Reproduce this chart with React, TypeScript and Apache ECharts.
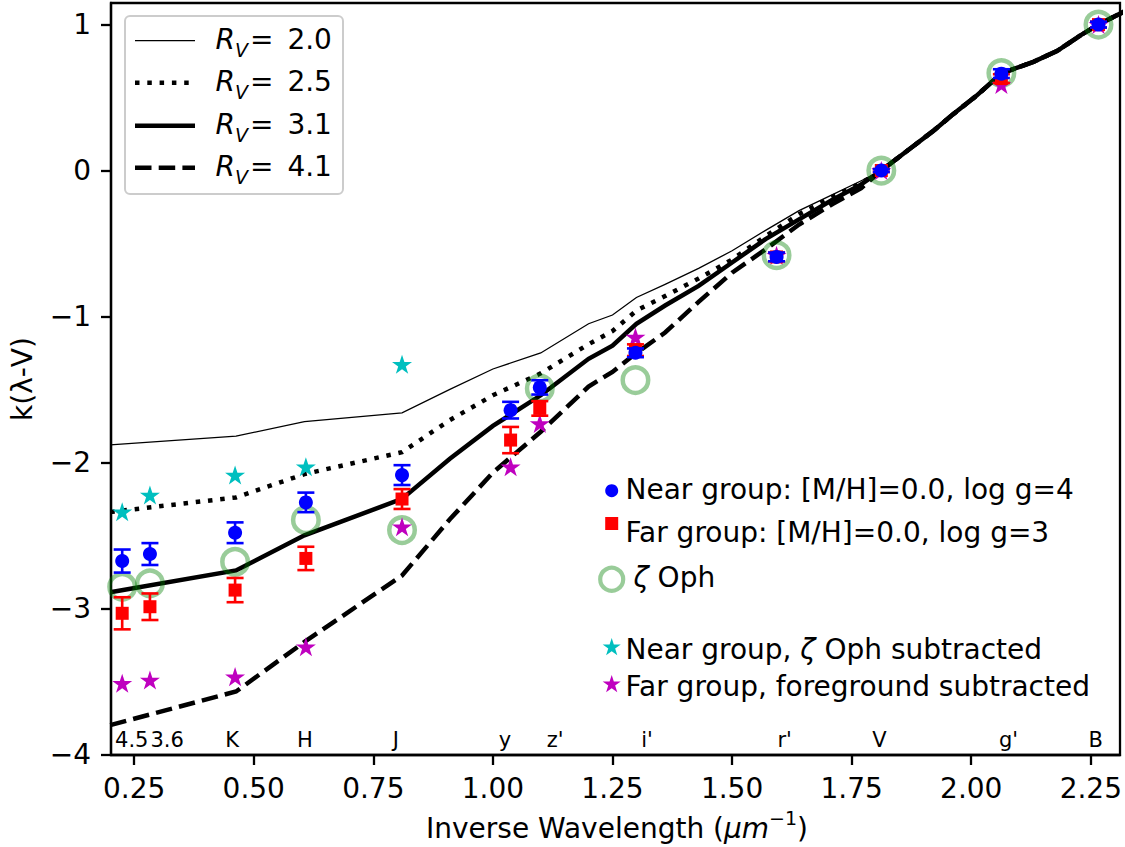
import React, { useEffect, useRef } from "react";
import * as echarts from "echarts";

// ---- data ----
const bandX = [0.225, 0.283, 0.461, 0.609, 0.81, 1.037, 1.098, 1.298, 1.593, 1.812, 2.063, 2.266];
const bandLabels = ["4.5", "3.6", "K", "H", "J", "y", "z'", "i'", "r'", "V", "g'", "B"];
const bandLabelX = [0.245, 0.319, 0.455, 0.607, 0.797, 1.025, 1.13, 1.322, 1.61, 1.808, 2.078, 2.26];
const bandLabelY = -3.9;

const nearY = [-2.676, -2.628, -2.482, -2.274, -2.087, -1.642, -1.486, -1.249, -0.592, 0.0, 0.664, 1.0];
const nearErr = [0.079, 0.075, 0.071, 0.067, 0.068, 0.057, 0.049, 0.03, 0.03, 0.01, 0.03, 0.02];
const farY = [-3.034, -2.989, -2.875, -2.658, -2.251, -1.847, -1.63, -1.231, -0.592, 0.0, 0.63, 1.0];
const farErr = [0.11, 0.091, 0.083, 0.08, 0.068, 0.09, 0.05, 0.04, 0.03, 0.01, 0.03, 0.02];
const zetaY = [-2.852, -2.829, -2.681, -2.395, -2.464, null, -1.493, -1.436, -0.58, 0.0, 0.668, 1.0];
const nearSubY = [-2.338, -2.224, -2.087, -2.03, -1.327];
const farSubY = [-3.514, -3.491, -3.468, -3.263, -2.441, -2.03, -1.733, -1.14, -0.58, 0.0, 0.59, 1.0];

const curveX = [0.2, 0.463, 0.606, 0.81, 0.91, 1.0, 1.1, 1.2, 1.25, 1.3, 1.36, 1.43, 1.5, 1.57, 1.64, 1.71, 1.77, 1.812, 1.88, 1.92, 1.96, 2.01, 2.063, 2.13, 2.18, 2.23, 2.266, 2.32];
const rv20 = [-1.88, -1.82, -1.72, -1.66, -1.5, -1.36, -1.25, -1.05, -0.99, -0.87, -0.78, -0.67, -0.55, -0.41, -0.275, -0.165, -0.07, 0, 0.17, 0.27, 0.38, 0.51, 0.665, 0.745, 0.82, 0.93, 1.0, 1.09];
const rv25 = [-2.34, -2.24, -2.08, -1.93, -1.71, -1.54, -1.39, -1.19, -1.1, -0.96, -0.86, -0.74, -0.61, -0.45, -0.3, -0.18, -0.085, 0, 0.17, 0.27, 0.38, 0.51, 0.665, 0.745, 0.82, 0.93, 1.0, 1.09];
const rv31 = [-2.89, -2.74, -2.5, -2.25, -1.975, -1.75, -1.54, -1.29, -1.2, -1.05, -0.925, -0.79, -0.63, -0.47, -0.335, -0.2, -0.095, 0, 0.17, 0.27, 0.38, 0.51, 0.665, 0.745, 0.82, 0.93, 1.0, 1.09];
const rv41 = [-3.8, -3.57, -3.23, -2.775, -2.39, -2.07, -1.79, -1.48, -1.38, -1.25, -1.11, -0.9, -0.7, -0.54, -0.37, -0.23, -0.12, 0, 0.17, 0.27, 0.38, 0.51, 0.665, 0.745, 0.82, 0.93, 1.0, 1.09];

const xTicks = [0.25, 0.5, 0.75, 1.0, 1.25, 1.5, 1.75, 2.0, 2.25];
const yTicks = [-4, -3, -2, -1, 0, 1];
const rvLabels = ["2.0", "2.5", "3.1", "4.1"];

// ---- helpers ----
const FONT = "DejaVu Sans";

function starPoints(cx: number, cy: number, r: number): number[][] {
  const pts: number[][] = [];
  const ri = r * 0.381966;
  for (let k = 0; k < 10; k++) {
    const a = -Math.PI / 2 + (k * Math.PI) / 5;
    const rr = k % 2 === 0 ? r : ri;
    pts.push([cx + rr * Math.cos(a), cy + rr * Math.sin(a)]);
  }
  return pts;
}
const starPath =
  "path://" +
  starPoints(10, 10, 10)
    .map((p, i) => (i === 0 ? "M" : "L") + p[0].toFixed(3) + " " + p[1].toFixed(3))
    .join(" ") +
  " Z";

const pair = (xs: number[], ys: (number | null)[]) =>
  xs.map((x, i) => [x, ys[i]]).filter((d) => d[1] !== null && d[1] !== undefined);

const errRender = (color: string) => (params: any, api: any) => {
  const x = api.value(0);
  const y = api.value(1);
  const e = api.value(2);
  const top = api.coord([x, y + e]);
  const bot = api.coord([x, y - e]);
  const hw = 8.5;
  const style = { stroke: color, lineWidth: 2.6 };
  return {
    type: "group",
    children: [
      { type: "line", shape: { x1: top[0], y1: top[1], x2: bot[0], y2: bot[1] }, style },
      { type: "line", shape: { x1: top[0] - hw, y1: top[1], x2: top[0] + hw, y2: top[1] }, style },
      { type: "line", shape: { x1: bot[0] - hw, y1: bot[1], x2: bot[0] + hw, y2: bot[1] }, style },
    ],
  };
};

const curveStyles = [
  { width: 1.3, type: "solid" as any },
  { width: 4.5, type: [4.5, 7.8] as any },
  { width: 4.5, type: "solid" as any },
  { width: 4.5, type: [16.5, 7.2] as any },
];
const curves = [rv20, rv25, rv31, rv41];

function buildOption(): any {
  const lineSeries = curves.map((ys, i) => ({
    type: "line",
    data: pair(curveX, ys),
    showSymbol: false,
    symbol: "none",
    clip: true,
    z: 2,
    silent: true,
    lineStyle: { color: "#000", opacity: 1, width: curveStyles[i].width, type: curveStyles[i].type, cap: "butt", join: "miter" },
  }));

  const legendRowY = [40.7, 82.7, 125.7, 167.7];
  const graphic: any[] = [
    {
      type: "rect",
      shape: { x: 125, y: 16, width: 218, height: 178, r: 5 },
      style: { fill: "rgba(255,255,255,0.8)", stroke: "#cccccc", lineWidth: 2 },
      z: 100,
    },
  ];
  legendRowY.forEach((y, i) => {
    graphic.push({
      type: "line",
      shape: { x1: 135, y1: y, x2: 195, y2: y },
      style: {
        stroke: "#000",
        lineWidth: curveStyles[i].width,
        lineDash: Array.isArray(curveStyles[i].type) ? curveStyles[i].type : null,
      },
      z: 101,
    });
    graphic.push({
      type: "text",
      x: 215.5,
      y: y - 0.8,
      z: 101,
      style: {
        text: "{r|R}{v|V}{n|=}{m|" + rvLabels[i] + "}",
        verticalAlign: "middle",
        align: "left",
        fill: "#000",
        rich: {
          r: { fontFamily: FONT, fontSize: 28, fontStyle: "italic", lineHeight: 40, fill: "#000" },
          v: { fontFamily: FONT, fontSize: 19, fontStyle: "italic", lineHeight: 19, verticalAlign: "bottom", fill: "#000" },
          n: { fontFamily: FONT, fontSize: 28, lineHeight: 40, padding: [0, 0, 0, 2], fill: "#000" },
          m: { fontFamily: FONT, fontSize: 28, lineHeight: 40, padding: [0, 0, 0, 14], fill: "#000" },
        },
      },
    });
  });

  // right legend
  const rl = 611.7;
  graphic.push({ type: "circle", shape: { cx: rl, cy: 490.7, r: 6.5 }, style: { fill: "#0000ff" }, z: 101 });
  graphic.push({ type: "rect", shape: { x: rl - 6.5, y: 523.5 - 6.5, width: 13, height: 13 }, style: { fill: "#ff0000" }, z: 101 });
  graphic.push({
    type: "circle",
    shape: { cx: rl, cy: 579.3, r: 11.5 },
    style: { fill: "none", stroke: "rgba(0,128,0,0.4)", lineWidth: 4.2 },
    z: 101,
  });
  graphic.push({ type: "polygon", shape: { points: starPoints(rl, 647.5, 9.5) }, style: { fill: "#00bfbf" }, z: 101 });
  graphic.push({ type: "polygon", shape: { points: starPoints(rl, 684.5, 9.5) }, style: { fill: "#bf00bf" }, z: 101 });

  const richBase = {
    n: { fontFamily: FONT, fontSize: 28, fill: "#000" },
    i: { fontFamily: FONT, fontSize: 28, fontStyle: "italic", fill: "#000" },
  };
  const rightTexts: [string, number, number][] = [
    ["{n|Near group: [M/H]=0.0, log g=4}", 625.5, 489.5],
    ["{n|Far group: [M/H]=0.0, log g=3}", 625.5, 532.5],
    ["{i|ζ}{n| Oph}", 633.5, 577.5],
    ["{n|Near group, }{i|ζ}{n| Oph subtracted}", 625.5, 649],
    ["{n|Far group, foreground subtracted}", 625.5, 686],
  ];
  rightTexts.forEach(([t, x, y]) => {
    graphic.push({
      type: "text",
      x,
      y,
      z: 101,
      style: { text: t, align: "left", verticalAlign: "middle", fill: "#000", rich: richBase },
    });
  });

  // axis titles
  graphic.push({
    type: "text",
    x: 22,
    y: 379,
    rotation: Math.PI / 2,
    z: 101,
    style: { text: "k(λ-V)", fontFamily: FONT, fontSize: 28, fill: "#000", align: "center", verticalAlign: "middle" },
  });
  graphic.push({
    type: "text",
    x: 617,
    y: 828.5,
    z: 101,
    style: {
      text: "{a|Inverse Wavelength (}{b|μm}{c|−1}{a|)}",
      align: "center",
      verticalAlign: "middle",
      fill: "#000",
      rich: {
        a: { fontFamily: FONT, fontSize: 28, lineHeight: 40, fill: "#000" },
        b: { fontFamily: FONT, fontSize: 28, lineHeight: 40, fontStyle: "italic", fill: "#000" },
        c: { fontFamily: FONT, fontSize: 19, lineHeight: 19, verticalAlign: "top", fill: "#000" },
      },
    },
  });

  return {
    animation: false,
    backgroundColor: "#fff",
    grid: { left: 111, top: 3, width: 1010, height: 752, show: true, borderColor: "#000", borderWidth: 2.3, backgroundColor: "transparent" },
    xAxis: {
      type: "value",
      min: 0.2016,
      max: 2.311,
      splitLine: { show: false },
      axisLine: { show: true, onZero: false, lineStyle: { color: "#000", width: 2.3 } },
      axisTick: { show: true, inside: false, length: 10, customValues: xTicks, lineStyle: { color: "#000", width: 2.3 } },
      axisLabel: {
        customValues: xTicks,
        formatter: (v: number) => v.toFixed(2),
        fontFamily: FONT,
        fontSize: 28,
        color: "#000",
        margin: 19,
      },
    },
    yAxis: {
      type: "value",
      min: -4.005,
      max: 1.148,
      splitLine: { show: false },
      axisLine: { show: true, onZero: false, lineStyle: { color: "#000", width: 2.3 } },
      axisTick: { show: true, inside: false, length: 10, customValues: yTicks, lineStyle: { color: "#000", width: 2.3 } },
      axisLabel: {
        customValues: yTicks,
        formatter: (v: number) => (v < 0 ? "\u2212" + Math.abs(v) : String(v)),
        fontFamily: FONT,
        fontSize: 28,
        color: "#000",
        margin: 20,
      },
    },
    graphic,
    series: [
      ...lineSeries,
      {
        type: "scatter",
        data: bandLabelX.map((x, i) => [x, bandLabelY, bandLabels[i]]),
        symbolSize: 1,
        itemStyle: { color: "transparent", opacity: 1 },
        silent: true,
        z: 3,
        label: {
          show: true,
          position: "inside",
          formatter: (p: any) => p.data[2],
          fontFamily: FONT,
          fontSize: 21,
          color: "#000",
          opacity: 1,
          textBorderWidth: 0,
        },
      },
      {
        type: "scatter",
        name: "zeta Oph",
        data: pair(bandX, zetaY),
        symbol: "circle",
        symbolSize: 25.5,
        silent: true,
        z: 4,
        itemStyle: { color: "rgba(0,0,0,0)", borderColor: "rgba(0,128,0,0.4)", borderWidth: 4.5, opacity: 1 },
      },
      {
        type: "scatter",
        name: "Near group, zeta Oph subtracted",
        data: pair(bandX.slice(0, 5), nearSubY),
        symbol: starPath,
        symbolKeepAspect: true,
        symbolSize: 20,
        silent: true,
        z: 5,
        itemStyle: { color: "#00bfbf", opacity: 1 },
      },
      {
        type: "scatter",
        name: "Far group, foreground subtracted",
        data: pair(bandX, farSubY),
        symbol: starPath,
        symbolKeepAspect: true,
        symbolSize: 20,
        silent: true,
        z: 5,
        itemStyle: { color: "#bf00bf", opacity: 1 },
      },
      {
        type: "custom",
        name: "far err",
        data: bandX.map((x, i) => [x, farY[i], farErr[i]]),
        renderItem: errRender("#ff0000"),
        encode: { x: 0, y: 1 },
        silent: true,
        z: 6,
      },
      {
        type: "scatter",
        name: "Far group",
        data: pair(bandX, farY),
        symbol: "rect",
        symbolSize: 13,
        silent: true,
        z: 6,
        itemStyle: { color: "#ff0000", opacity: 1 },
      },
      {
        type: "custom",
        name: "near err",
        data: bandX.map((x, i) => [x, nearY[i], nearErr[i]]),
        renderItem: errRender("#0000ff"),
        encode: { x: 0, y: 1 },
        silent: true,
        z: 7,
      },
      {
        type: "scatter",
        name: "Near group",
        data: pair(bandX, nearY),
        symbol: "circle",
        symbolSize: 14,
        silent: true,
        z: 7,
        itemStyle: { color: "#0000ff", opacity: 1 },
      },
    ],
  };
}

export default function App() {
  const ref = useRef<HTMLDivElement>(null);
  useEffect(() => {
    if (!ref.current) return;
    const chart = echarts.init(ref.current, null, { renderer: "svg" });
    chart.setOption(buildOption());
    return () => chart.dispose();
  }, []);
  return (
    <div
      ref={ref}
      style={{ position: "absolute", left: 0, top: 0, width: 1125, height: 847, background: "#fff" }}
    />
  );
}
